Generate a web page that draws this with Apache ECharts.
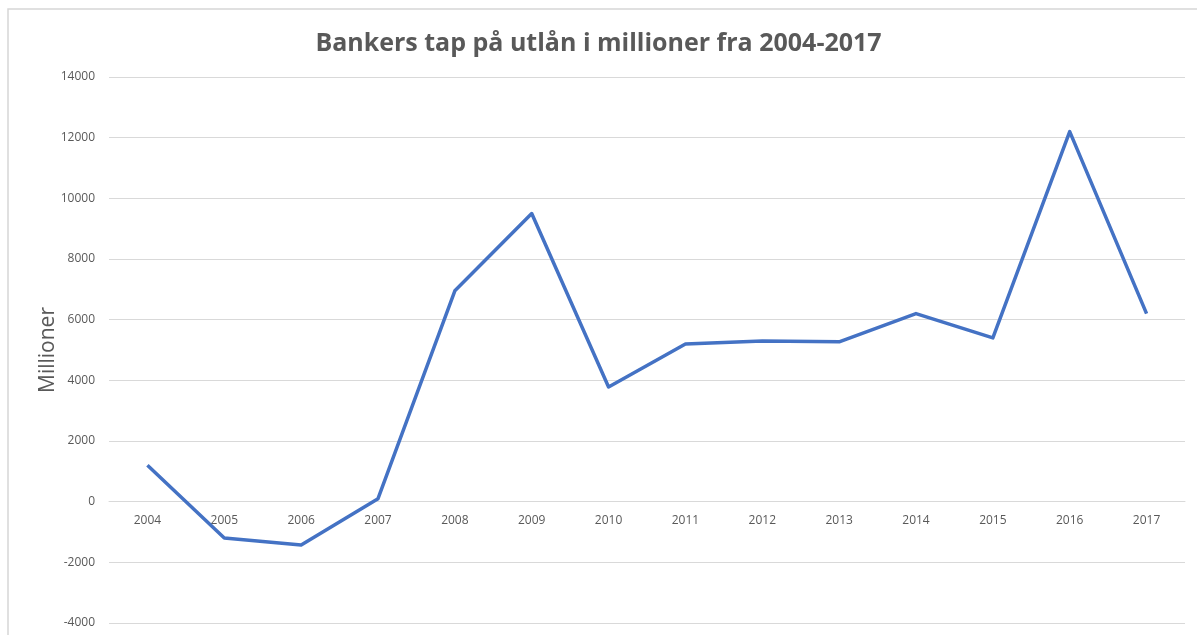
<!DOCTYPE html>
<html>
<head>
<meta charset="utf-8">
<title>Bankers tap på utlån</title>
<script src="https://cdn.jsdelivr.net/npm/echarts@6/dist/echarts.min.js"></script>
<style>
  html, body { margin: 0; padding: 0; background: #ffffff; }
  #chart { width: 1197px; height: 635px; }
</style>
</head>
<body>
<div id="chart"></div>
<script>
// Years on the category axis
const years = ['2004', '2005', '2006', '2007', '2008', '2009', '2010',
               '2011', '2012', '2013', '2014', '2015', '2016', '2017'];
// Loan losses, NOK millions
const losses = [1200, -1200, -1430, 100, 6950, 9500, 3780,
                5200, 5300, 5270, 6200, 5400, 12200, 6200];

const titleText = 'Bankers tap på utlån i millioner fra 2004-2017';
const yAxisName = 'Millioner';

const textGrey = '#595959';
const gridGrey = '#d9d9d9';
const font = '"Open Sans", "Liberation Sans", sans-serif';

const yMin = -4000;
const yMax = 14000;
const gridTop = 77;
const gridBottom = 12;
const chartHeight = 635;

// The category axis sits on the zero line, so shift it up from the grid bottom
const plotHeight = chartHeight - gridTop - gridBottom;
const zeroShift = plotHeight * (0 - yMin) / (yMax - yMin);

const chart = echarts.init(document.getElementById('chart'), null, { renderer: 'canvas' });

chart.setOption({
  backgroundColor: '#ffffff',
  animation: false,
  graphic: [{
    type: 'rect',
    shape: { x: 8, y: 9, width: 1300, height: 800 },
    style: { fill: 'none', stroke: '#d6d6d6', lineWidth: 1.5 },
    silent: true,
    z: -1
  }],
  title: {
    text: titleText,
    left: 'center',
    top: 26,
    textStyle: {
      fontFamily: font,
      fontWeight: 'bold',
      fontSize: 25,
      color: textGrey
    }
  },
  grid: {
    left: 109,
    right: 12,
    top: gridTop,
    bottom: gridBottom,
    containLabel: false,
    outerBoundsMode: 'none'
  },
  xAxis: {
    type: 'category',
    data: years,
    boundaryGap: true,
    offset: -zeroShift,
    axisLine: { onZero: false, lineStyle: { color: gridGrey, width: 1 } },
    axisTick: { show: false },
    axisLabel: {
      margin: 13,
      fontFamily: font,
      fontSize: 12,
      color: textGrey
    },
    splitLine: { show: false }
  },
  yAxis: {
    type: 'value',
    min: yMin,
    max: yMax,
    interval: 2000,
    name: yAxisName,
    nameLocation: 'middle',
    nameGap: 50,
    nameMoveOverlap: false,
    nameRotate: 90,
    nameTextStyle: {
      fontFamily: font,
      fontSize: 21,
      color: textGrey
    },
    axisLine: { show: false },
    axisTick: { show: false },
    axisLabel: {
      margin: 14,
      fontFamily: font,
      fontSize: 12,
      color: textGrey,
      formatter: (v) => String(v)
    },
    splitLine: { lineStyle: { color: gridGrey, width: 1 } }
  },
  series: [{
    type: 'line',
    data: losses,
    showSymbol: false,
    symbol: 'none',
    lineStyle: { color: '#4472C4', width: 3.5, join: 'round' },
    itemStyle: { color: '#4472C4' }
  }]
});
</script>
</body>
</html>
